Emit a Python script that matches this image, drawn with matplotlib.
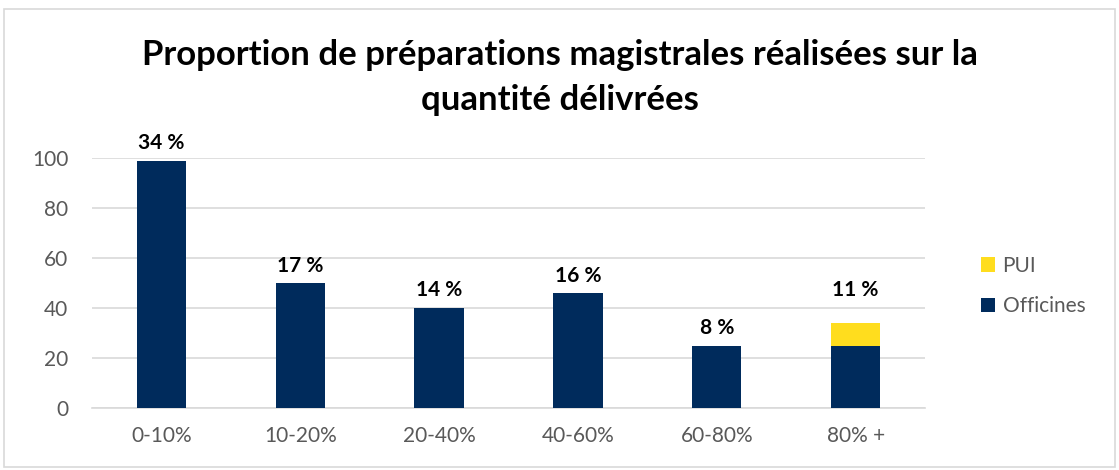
import matplotlib
matplotlib.use("Agg")
import matplotlib.pyplot as plt
from matplotlib.patches import Rectangle
import numpy as np

categories = ["0-10%", "10-20%", "20-40%", "40-60%", "60-80%", "80% +"]
officines = [99, 50, 40, 46, 25, 25]
pui = [0, 0, 0, 0, 0, 9]
labels = ["34 %", "17 %", "14 %", "16 %", "8 %", "11 %"]

plt.rcParams['font.family'] = ['Lato', 'DejaVu Sans']

fig = plt.figure(figsize=(11.19, 4.70), dpi=100)
ax = fig.add_axes([92/1119, 1-408/470, (925-92)/1119, (408-158)/470])

navy = "#002B5C"
yellow = "#FFDD1E"
x = np.arange(len(categories))
w = 0.355
ax.bar(x, officines, width=w, color=navy, zorder=3, label="Officines")
ax.bar(x, pui, width=w, bottom=officines, color=yellow, zorder=3, label="PUI")

tops = np.array(officines) + np.array(pui)
for xi, t, p, lab in zip(x, tops, pui, labels):
    off = 9 if p > 0 else 3
    ax.text(xi, t + off, lab, ha="center", va="bottom", fontsize=15, fontweight="bold", color="black", clip_on=False)

ax.set_ylim(0, 100)
ax.set_xlim(-0.5, len(categories) - 0.5)
ax.set_yticks([0, 20, 40, 60, 80, 100])
ax.yaxis.grid(True, color="#D9D9D9", linewidth=1.2, zorder=0)
ax.set_axisbelow(True)
for s in ["top", "right", "left"]:
    ax.spines[s].set_visible(False)
ax.spines["bottom"].set_color("#D9D9D9")
ax.spines["bottom"].set_linewidth(1.2)
ax.tick_params(axis="both", length=0, labelsize=15, colors="#595959")
ax.tick_params(axis="x", pad=13)
ax.tick_params(axis="y", pad=17)
ax.set_xticks(x)
ax.set_xticklabels(categories)

handles, lbls = ax.get_legend_handles_labels()
leg = fig.legend(handles[::-1], lbls[::-1], loc="center left", bbox_to_anchor=(962/1119, 1-286/470),
                 frameon=False, fontsize=15, handlelength=0.7, handleheight=0.7,
                 handletextpad=0.35, labelspacing=1.0)
for t in leg.get_texts():
    t.set_color("#595959")

fig.text(0.5, 1-55/470, "Proportion de préparations magistrales réalisées sur la",
         ha="center", va="center", fontsize=25, fontweight="bold")
fig.text(0.5, 1-100/470, "quantité délivrées",
         ha="center", va="center", fontsize=25, fontweight="bold")

fig.patches.append(Rectangle((4/1119, 3/470), 1111/1119, 458/470, transform=fig.transFigure,
                             fill=False, edgecolor="#D9D9D9", linewidth=1.2))

fig.savefig("out.png", dpi=100, facecolor="white")
